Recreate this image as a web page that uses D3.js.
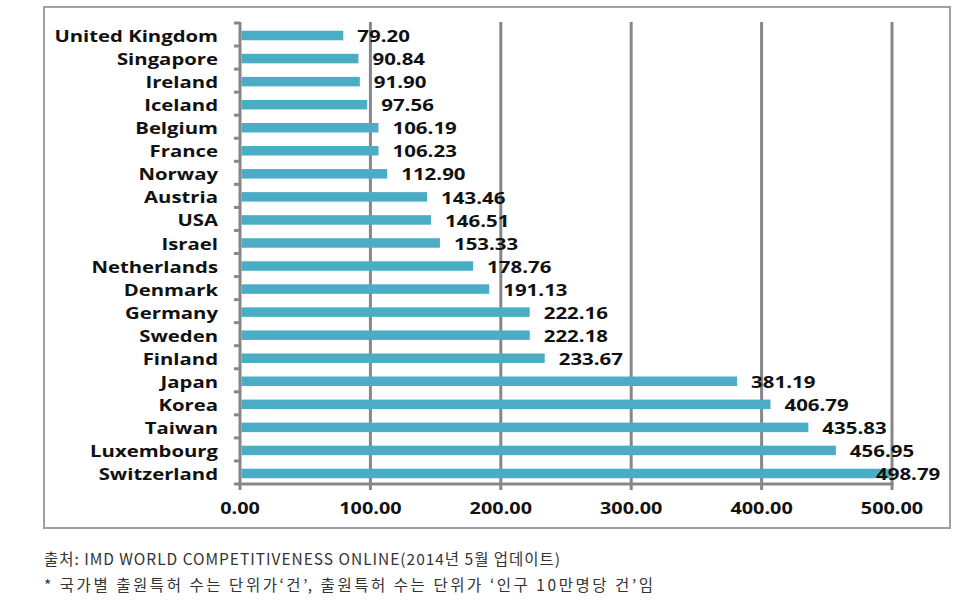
<!DOCTYPE html>
<html><head><meta charset="utf-8">
<script src="https://cdn.jsdelivr.net/npm/d3@7"></script>
<style>body{margin:0;background:#fff}</style>
</head><body>
<svg id="c" width="971" height="612"></svg>
<script>
const countries = ["United Kingdom","Singapore","Ireland","Iceland","Belgium","France","Norway","Austria","USA","Israel","Netherlands","Denmark","Germany","Sweden","Finland","Japan","Korea","Taiwan","Luxembourg","Switzerland"];
const values = [79.20,90.84,91.90,97.56,106.19,106.23,112.90,143.46,146.51,153.33,178.76,191.13,222.16,222.18,233.67,381.19,406.79,435.83,456.95,498.79];
const xTicks = [0,100,200,300,400,500];
const footnotes = ["출처: IMD WORLD COMPETITIVENESS ONLINE(2014년 5월 업데이트)","* 국가별 출원특허 수는 단위가‘건’, 출원특허 수는 단위가 ‘인구 10만명당 건’임"];
const footWidths = [516, 609];

const svg = d3.select("#c");
svg.append("rect").attr("x",44).attr("y",7).attr("width",906).attr("height",521)
  .attr("fill","#fff").attr("stroke","#a0a0a0").attr("stroke-width",2);

const plotTop = 23, plotBottom = 484;
const x = d3.scaleLinear().domain([0,500]).range([240,892]);
const yb = d3.scaleBand().domain(countries).range([plotTop,plotBottom]);
const barH = 9.5;
const font = "'Open Sans', 'DejaVu Sans', sans-serif";
const SX = 1.24, SXC = 1.27;
const gridCol = "#878787";

// gridlines
svg.append("g").selectAll("line").data(xTicks.slice(1)).join("line")
  .attr("x1",d=>x(d)).attr("x2",d=>x(d)).attr("y1",plotTop-1).attr("y2",plotBottom)
  .attr("stroke",gridCol).attr("stroke-width",3);

// bars
svg.append("g").selectAll("rect").data(values).join("rect")
  .attr("x",x(0)+1.5).attr("y",(d,i)=>yb(countries[i])+yb.bandwidth()/2 - barH/2 + 1)
  .attr("width",d=>x(d)-x(0)-1.5).attr("height",barH)
  .attr("fill","#4bacc6");

// y axis
const yAxis = svg.append("g");
yAxis.append("line").attr("x1",x(0)).attr("x2",x(0)).attr("y1",plotTop-1).attr("y2",plotBottom)
  .attr("stroke",gridCol).attr("stroke-width",3);
const bounds = countries.map(c=>yb(c)).concat([plotBottom]);
yAxis.selectAll("line.t").data(bounds).join("line").attr("class","t")
  .attr("x1",x(0)-6).attr("x2",x(0)).attr("y1",d=>d).attr("y2",d=>d)
  .attr("stroke",gridCol).attr("stroke-width",3);
yAxis.selectAll("text").data(countries).join("text")
  .attr("transform",d=>`translate(218,${yb(d)+yb.bandwidth()/2+1}) scale(${SXC},1)`)
  .attr("text-anchor","end").attr("dominant-baseline","central")
  .attr("font-family",font).attr("font-weight","bold").attr("font-size",16)
  .attr("fill","#111").text(d=>d);

// x axis
const xAxis = svg.append("g");
xAxis.append("line").attr("x1",x(0)-1.5).attr("x2",x(500)+1.5).attr("y1",plotBottom).attr("y2",plotBottom)
  .attr("stroke",gridCol).attr("stroke-width",3);
xAxis.selectAll("line.t").data(xTicks).join("line").attr("class","t")
  .attr("x1",d=>x(d)).attr("x2",d=>x(d)).attr("y1",plotBottom).attr("y2",plotBottom+6)
  .attr("stroke",gridCol).attr("stroke-width",3);
xAxis.selectAll("text").data(xTicks).join("text")
  .attr("transform",d=>`translate(${x(d)},508) scale(${SX},1)`)
  .attr("text-anchor","middle").attr("dominant-baseline","central")
  .attr("font-family",font).attr("font-weight","bold").attr("font-size",16)
  .attr("fill","#111").text(d=>d3.format(".2f")(d));

// value labels
const labelW = 66;
svg.append("g").selectAll("text").data(values).join("text")
  .attr("transform",(d,i)=>`translate(${Math.min(x(d)+14, 942-labelW)},${yb(countries[i])+yb.bandwidth()/2+1}) scale(${SX},1)`)
  .attr("dominant-baseline","central")
  .attr("font-family",font).attr("font-weight","bold").attr("font-size",16.5)
  .attr("fill","#111").text(d=>d3.format(".2f")(d));

// footnotes
svg.append("g").selectAll("text").data(footnotes).join("text")
  .attr("x",44).attr("y",(d,i)=>558+i*26).attr("dominant-baseline","central")
  .attr("font-family","'Noto Sans CJK KR', sans-serif").attr("font-size",15.5)
  .attr("textLength",(d,i)=>footWidths[i]).attr("lengthAdjust","spacing")
  .attr("fill","#333").text(d=>d);
</script>
</body></html>
